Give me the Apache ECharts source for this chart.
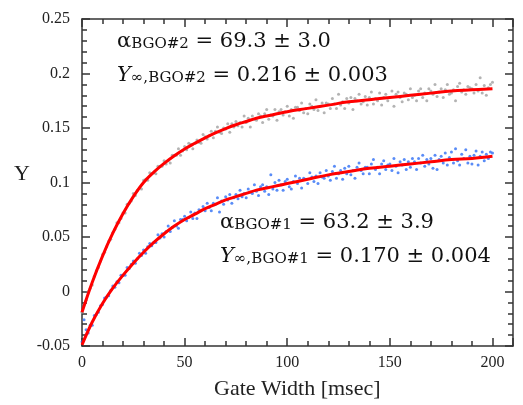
<!DOCTYPE html>
<html><head><meta charset="utf-8">
<script src="https://cdn.jsdelivr.net/npm/echarts@6/dist/echarts.min.js"></script>
<style>html,body{margin:0;padding:0;background:#fff}#c{width:523px;height:405px}</style>
</head><body><div id="c"></div>
<script>
// Gate width grid (msec), one measurement per msec
const gateWidth = Array.from({length: 201}, (_, i) => i);

// BGO#2 measured Y (gray points)
const yBGO2 = [
-0.019,-0.012,-0.008,0.000,0.003,0.006,0.014,0.019,0.022,0.028,
0.034,0.036,0.041,0.046,0.048,0.054,0.057,0.063,0.063,0.067,
0.072,0.072,0.080,0.081,0.083,0.090,0.088,0.093,0.095,0.094,
0.102,0.103,0.102,0.109,0.108,0.109,0.108,0.115,0.115,0.115,
0.120,0.117,0.120,0.118,0.125,0.125,0.125,0.131,0.125,0.129,
0.133,0.130,0.136,0.135,0.131,0.136,0.139,0.137,0.136,0.144,
0.142,0.140,0.143,0.147,0.141,0.147,0.151,0.146,0.145,0.150,
0.149,0.154,0.146,0.154,0.151,0.156,0.152,0.155,0.151,0.161,
0.155,0.159,0.151,0.161,0.158,0.157,0.163,0.161,0.155,0.163,
0.167,0.158,0.162,0.161,0.167,0.157,0.165,0.167,0.162,0.165,
0.170,0.161,0.167,0.159,0.169,0.169,0.166,0.173,0.164,0.168,
0.163,0.172,0.170,0.167,0.176,0.166,0.170,0.173,0.164,0.173,
0.172,0.168,0.177,0.172,0.168,0.181,0.171,0.174,0.168,0.177,
0.173,0.178,0.167,0.177,0.175,0.181,0.172,0.174,0.179,0.171,
0.178,0.183,0.172,0.177,0.175,0.182,0.171,0.178,0.181,0.175,
0.178,0.184,0.170,0.181,0.183,0.178,0.174,0.182,0.181,0.176,
0.186,0.178,0.180,0.175,0.184,0.186,0.178,0.182,0.175,0.186,
0.184,0.181,0.190,0.179,0.183,0.186,0.178,0.185,0.190,0.181,
0.182,0.185,0.175,0.188,0.191,0.183,0.185,0.181,0.188,0.187,
0.186,0.182,0.190,0.184,0.196,0.182,0.189,0.180,0.187,0.190,
0.192];

// BGO#1 measured Y (blue points)
const yBGO1 = [
-0.046,-0.026,-0.035,-0.038,-0.031,-0.031,-0.022,-0.021,-0.019,-0.013,
-0.012,-0.006,-0.005,-0.004,0.001,0.005,0.004,0.009,0.008,0.015,
0.015,0.015,0.022,0.021,0.025,0.028,0.026,0.030,0.035,0.033,
0.038,0.035,0.041,0.044,0.042,0.045,0.045,0.052,0.049,0.053,
0.050,0.055,0.060,0.055,0.059,0.065,0.060,0.058,0.066,0.066,
0.069,0.065,0.068,0.073,0.067,0.072,0.067,0.075,0.074,0.078,
0.074,0.081,0.077,0.074,0.081,0.080,0.086,0.073,0.083,0.080,
0.087,0.084,0.089,0.081,0.086,0.089,0.085,0.093,0.087,0.090,
0.086,0.094,0.091,0.090,0.098,0.092,0.088,0.096,0.098,0.092,
0.096,0.089,0.107,0.094,0.100,0.093,0.102,0.098,0.093,0.101,
0.103,0.096,0.094,0.101,0.106,0.099,0.104,0.095,0.104,0.103,
0.099,0.109,0.105,0.101,0.106,0.099,0.109,0.105,0.104,0.111,
0.106,0.102,0.110,0.115,0.104,0.108,0.111,0.103,0.113,0.108,
0.115,0.107,0.111,0.104,0.114,0.118,0.111,0.108,0.114,0.114,
0.108,0.117,0.121,0.112,0.114,0.108,0.117,0.120,0.112,0.116,
0.117,0.111,0.122,0.115,0.109,0.119,0.116,0.121,0.112,0.119,
0.114,0.122,0.119,0.112,0.122,0.118,0.125,0.115,0.121,0.117,
0.122,0.113,0.125,0.112,0.121,0.124,0.118,0.127,0.116,0.123,
0.128,0.118,0.131,0.120,0.116,0.126,0.122,0.130,0.118,0.124,
0.117,0.125,0.129,0.116,0.124,0.128,0.120,0.126,0.122,0.128,
0.127];

// Fitted curves (red), read at selected gate widths
const fitX = [0,5,10,15,20,25,30,35,40,45,50,55,60,65,70,75,80,85,90,95,100,110,120,130,140,150,160,170,180,190,200];
const fitBGO2 = [-0.019,0.0085,0.0325,0.0535,0.0715,0.087,0.100,0.1095,0.1175,0.1245,0.1307,0.136,0.141,0.1455,0.1495,0.153,0.156,0.159,0.161,0.163,0.165,0.168,0.171,0.174,0.176,0.178,0.180,0.182,0.184,0.185,0.186];
const fitBGO1 = [-0.049,-0.028,-0.011,0.003,0.015,0.026,0.036,0.045,0.053,0.060,0.066,0.071,0.076,0.080,0.084,0.087,0.090,0.093,0.095,0.097,0.099,0.103,0.107,0.110,0.113,0.115,0.117,0.119,0.121,0.122,0.124];

const xTicks = {min: 0, max: 210, interval: 50};
const yTicks = {min: -0.05, max: 0.25, interval: 0.05};

const serif = 'Liberation Serif';
const mathFont = 'DejaVu Serif';
const ink = '#222';

function pairs(xs, ys) { return xs.map((x, i) => [x, ys[i]]); }

const chart = echarts.init(document.getElementById('c'), null, {renderer: 'canvas'});

const axisCommon = {
  type: 'value',
  axisLine: {show: true, onZero: false, lineStyle: {color: '#333', width: 1.5}},
  axisTick: {show: true, inside: true, length: 8, lineStyle: {color: '#333', width: 1.5}},
  minorTick: {show: true, splitNumber: 5, length: 5, lineStyle: {color: '#333', width: 1.5}},
  splitLine: {show: false},
  minorSplitLine: {show: false}
};

const rich = {
  m: {fontFamily: mathFont, fontSize: 21, color: '#111', verticalAlign: 'bottom', lineHeight: 28},
  i: {fontFamily: mathFont, fontSize: 21, fontStyle: 'italic', color: '#111', verticalAlign: 'bottom', lineHeight: 28},
  s: {fontFamily: mathFont, fontSize: 15, color: '#111', verticalAlign: 'bottom', lineHeight: 22}
};

function note(x, y, text) {
  return {type: 'text', left: x, top: y, z: 100,
    style: {text: text, rich: rich, fill: '#111'}};
}

chart.setOption({
  animation: false,
  backgroundColor: '#fff',
  grid: {left: 82, top: 19, right: 10, bottom: 59, containLabel: false},
  xAxis: [
    Object.assign({}, axisCommon, xTicks, {position: 'bottom',
      axisLabel: {show: true, margin: 9, fontFamily: serif, fontSize: 16, color: ink}}),
    Object.assign({}, axisCommon, xTicks, {position: 'top', axisLabel: {show: false}})
  ],
  yAxis: [
    Object.assign({}, axisCommon, yTicks, {position: 'left',
      axisLabel: {show: true, margin: 12, fontFamily: serif, fontSize: 16, color: ink}}),
    Object.assign({}, axisCommon, yTicks, {position: 'right', axisLabel: {show: false}})
  ],
  series: [
    {type: 'scatter', name: 'BGO#2', data: pairs(gateWidth, yBGO2), symbolSize: 3,
      itemStyle: {color: '#a0a0a0'}, z: 2},
    {type: 'scatter', name: 'BGO#1', data: pairs(gateWidth, yBGO1), symbolSize: 3,
      itemStyle: {color: '#2f6ff5'}, z: 2},
    {type: 'line', name: 'fit BGO#2', data: pairs(fitX, fitBGO2), smooth: 0.4, showSymbol: false,
      lineStyle: {color: '#ff0000', width: 3}, z: 3},
    {type: 'line', name: 'fit BGO#1', data: pairs(fitX, fitBGO1), smooth: 0.4, showSymbol: false,
      lineStyle: {color: '#ff0000', width: 3}, z: 3}
  ],
  graphic: [
    {type: 'text', left: 14, top: 163, style: {text: 'Y', fontFamily: serif, fontSize: 22, fill: ink}},
    {type: 'text', left: 214, top: 378, style: {text: 'Gate Width [msec]', fontFamily: serif, fontSize: 22, fill: ink}},
    note(117, 31, '{m|α}{s|BGO#2}{m| = 69.3 ± 3.0}'),
    note(117, 65, '{i|Y}{s|∞,BGO#2}{m| = 0.216 ± 0.003}'),
    note(220, 212, '{m|α}{s|BGO#1}{m| = 63.2 ± 3.9}'),
    note(220, 246, '{i|Y}{s|∞,BGO#1}{m| = 0.170 ± 0.004}')
  ]
});
</script>
</body></html>
